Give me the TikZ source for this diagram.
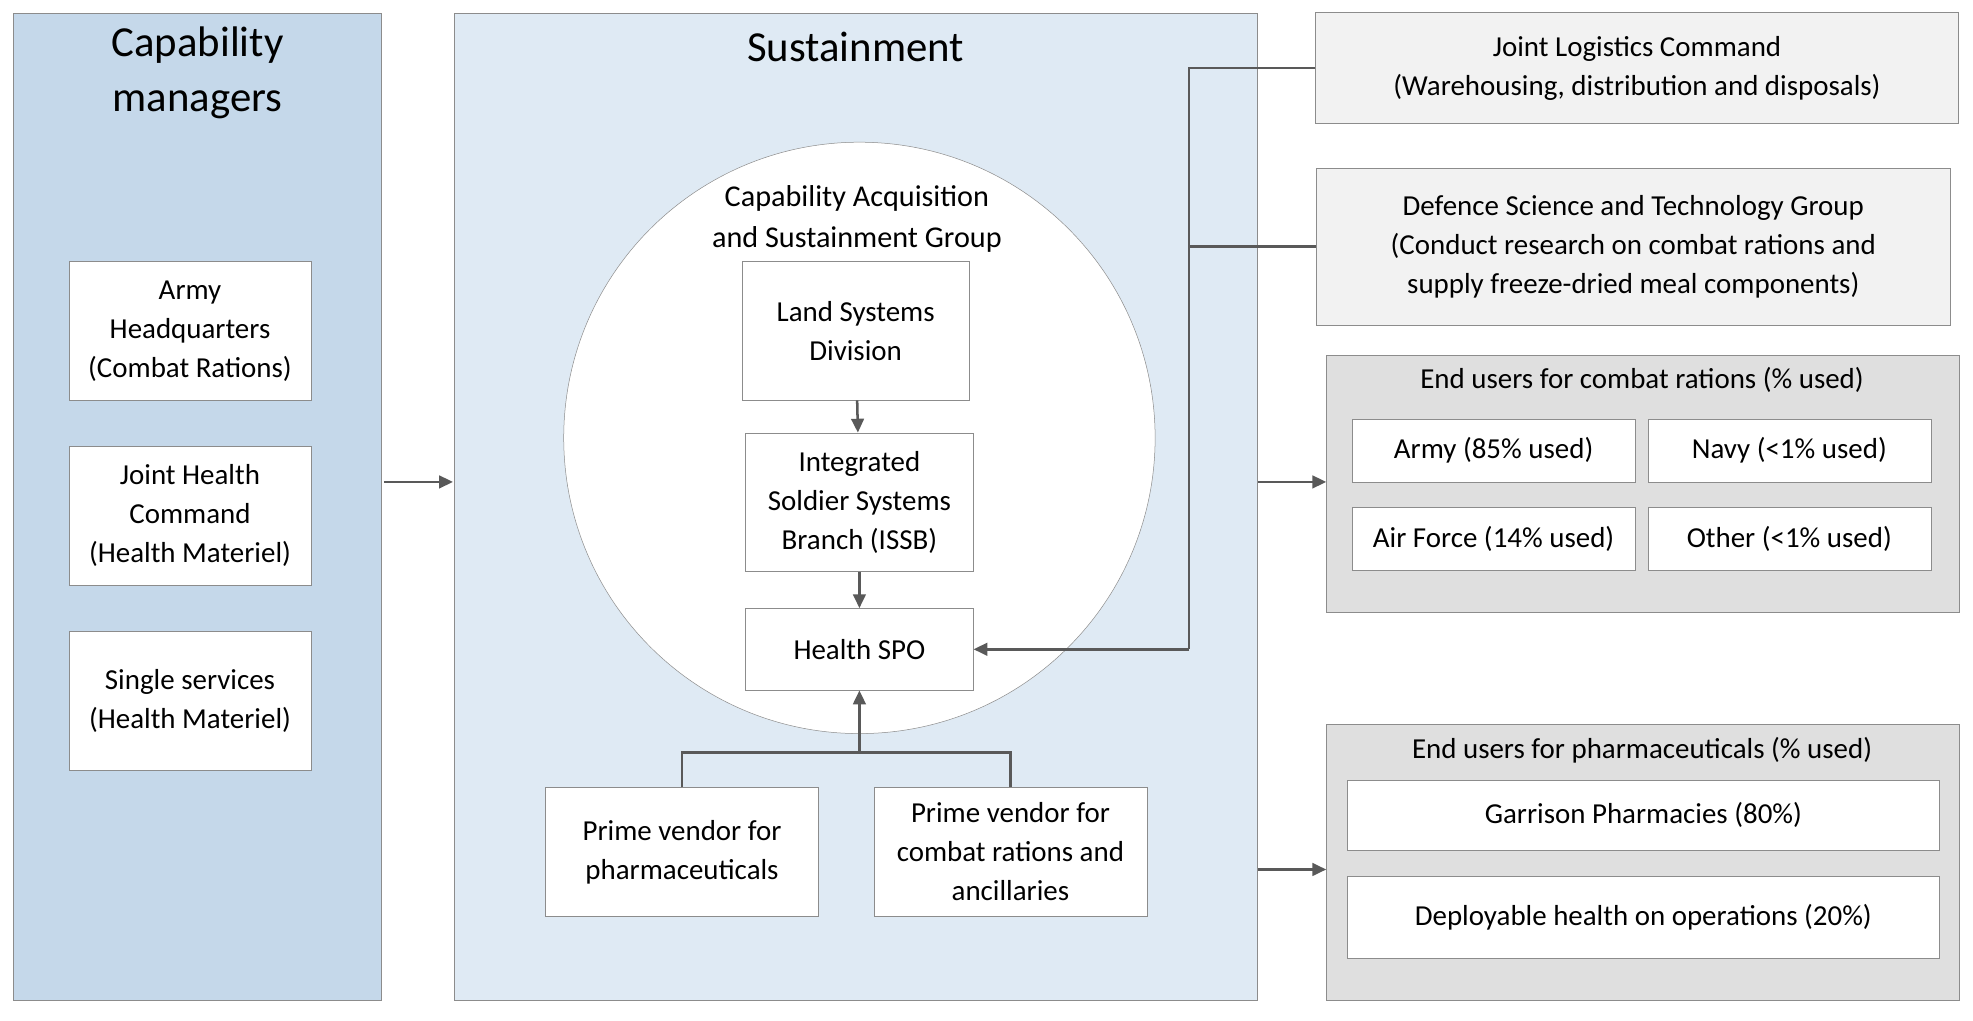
\documentclass[tikz,border=0pt]{standalone}
\usepackage{fontspec}
\setmainfont{Carlito}
\usetikzlibrary{arrows.meta, positioning, calc}
\definecolor{capblue}{HTML}{C5D8EA}
\definecolor{susblue}{HTML}{DFEAF4}
\definecolor{edgegrey}{HTML}{8C8C8C}
\definecolor{linegrey}{HTML}{595959}
\begin{document}
\begin{tikzpicture}[
      x=1pt, y=-1pt,
      panel/.style={rectangle, draw=edgegrey, anchor=north west, inner sep=0pt},
      box/.style={rectangle, draw=edgegrey, fill=white, align=center, font=\fontsize{23}{31}\selectfont},
      ttl/.style={align=center, font=\fontsize{34}{44}\selectfont},
      sub/.style={align=center, font=\fontsize{24}{33}\selectfont},
      arrow/.style={-{Triangle[length=11pt, width=10pt]}, line width=2pt, draw=linegrey},
      link/.style={line width=2pt, draw=linegrey}
    ]
    \useasboundingbox (0,0) rectangle (1568,811);
    % panels
    \node[panel, fill=capblue, minimum width=293, minimum height=785] (capm) at (10,10) {};
    \node[panel, fill=susblue, minimum width=638, minimum height=785] (sust) at (361,10) {};
    \node[ttl] (capt) at (157,58) {Capability\\managers};
    \node[ttl] (sustt) at (680,37) {Sustainment};

    \node[box, minimum width=192, minimum height=110] (army) at (151,263) {Army\\Headquarters\\(Combat Rations)};
    \node[box, minimum width=192, minimum height=110] (jhc) at (151,410) {Joint Health\\Command\\(Health Materiel)};
    \node[box, minimum width=192, minimum height=110] (single) at (151,557) {Single services\\(Health Materiel)};

    % group circle
    \node[circle, draw=edgegrey, fill=white, minimum size=470] (casg) at (683,348) {};
    \node[sub] (casgt) at (681,174) {Capability Acquisition\\and Sustainment Group};
    \node[box, minimum width=180, minimum height=110] (lsd) at (680,263) {Land Systems\\Division};
    \node[box, minimum width=181, minimum height=110] (issb) at (683,399) {Integrated\\Soldier Systems\\Branch (ISSB)};
    \node[box, minimum width=181, minimum height=65] (spo) at (683,516) {Health SPO};
    \node[box, minimum width=217, minimum height=102] (pvp) at (542,677) {Prime vendor for\\pharmaceuticals};
    \node[box, minimum width=217, minimum height=102] (pvc) at (803,677) {Prime vendor for\\combat rations and\\ancillaries};

    % right side
    \node[box, fill=gray!10, minimum width=511, minimum height=88] (jlc) at (1301,54) {Joint Logistics Command\\(Warehousing, distribution and disposals)};
    \node[box, fill=gray!10, minimum width=504, minimum height=125] (dstg) at (1298,196) {Defence Science and Technology Group\\(Conduct research on combat rations and\\supply freeze-dried meal components)};

    \node[panel, fill=gray!25, minimum width=503, minimum height=204] (eucr) at (1054,282) {};
    \node[box, draw=none, fill=none] (eucrt) at (1305,302) {End users for combat rations (\% used)};
    \node[box, minimum width=225, minimum height=50] (uarmy) at (1187,358) {Army (85\% used)};
    \node[box, minimum width=225, minimum height=50] (unavy) at (1422,358) {Navy (<1\% used)};
    \node[box, minimum width=225, minimum height=50] (uair) at (1187,428) {Air Force (14\% used)};
    \node[box, minimum width=225, minimum height=50] (uother) at (1422,428) {Other (<1\% used)};

    \node[panel, fill=gray!25, minimum width=503, minimum height=220] (euph) at (1054,575) {};
    \node[box, draw=none, fill=none] (eupht) at (1305,596) {End users for pharmaceuticals (\% used)};
    \node[box, minimum width=471, minimum height=56] (garr) at (1306,648) {Garrison Pharmacies (80\%)};
    \node[box, minimum width=471, minimum height=65] (depl) at (1306,729) {Deployable health on operations (20\%)};

    % connectors
    \coordinate (capR) at (305,383);
    \coordinate (susL) at (360,383);
    \draw[arrow] (capR) -- (susL);
    \draw[arrow] (lsd) -- (issb);
    \draw[arrow] (issb) -- (spo);
    \coordinate (vj) at (683,598);
    \draw[link] (pvp.north) -- (pvp.north |- vj) -- (pvc.north |- vj) -- (pvc.north);
    \draw[arrow] (vj) -- (spo.south);
    \coordinate (bus) at (945,516);
    \draw[link] (jlc.west) -- (jlc.west -| bus) -- (bus);
    \draw[link] (dstg.west) -- (dstg.west -| bus);
    \draw[arrow] (bus) -- (spo.east);
    \coordinate (crA) at (1000,383);
    \draw[arrow] (crA) -- (crA -| eucr.west);
    \coordinate (phA) at (1000,691);
    \draw[arrow] (phA) -- (phA -| euph.west);
\end{tikzpicture}
\end{document}
